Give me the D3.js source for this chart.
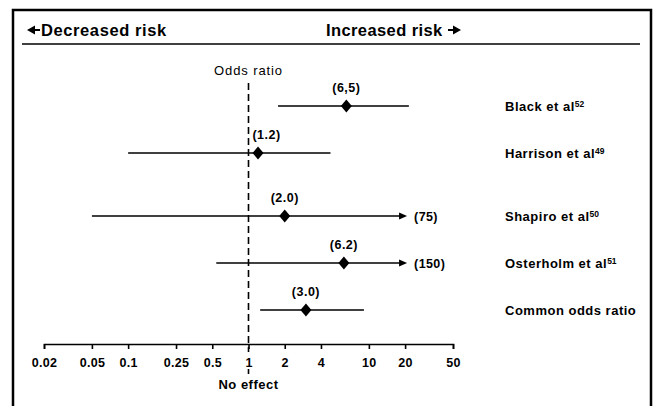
<!DOCTYPE html>
<html>
<head>
<meta charset="utf-8">
<script src="https://cdn.jsdelivr.net/npm/d3@7"></script>
<style>
  body { margin: 0; background: #fff; }
  svg text { font-family: "Liberation Sans", Arial, sans-serif; fill: #000; }
</style>
</head>
<body>
<div id="chart"></div>
<script>
// data
const studies    = ["Black et al", "Harrison et al", "Shapiro et al", "Osterholm et al", "Common odds ratio"];
const refs       = ["52", "49", "50", "51", ""];
const oddsRatio  = [6.5, 1.2, 2.0, 6.2, 3.0];
const ciLow      = [1.76, 0.1, 0.05, 0.54, 1.25];
const ciHigh     = [21.5, 4.8, 75, 150, 9.1];
const orLabels   = ["(6,5)", "(1.2)", "(2.0)", "(6.2)", "(3.0)"];
const tickValues = [0.02, 0.05, 0.1, 0.25, 0.5, 1, 2, 4, 10, 20, 50];
const tickLabels = ["0.02", "0.05", "0.1", "0.25", "0.5", "1", "2", "4", "10", "20", "50"];
const clipMax    = 22; // intervals beyond this are drawn as arrows

const W = 658, H = 406;
const svg = d3.select("#chart").append("svg")
    .attr("width", W)
    .attr("height", H);

const x = d3.scaleLog().domain([0.02, 50]).range([44, 453]);
// rows are not evenly spaced: wider gap after the second study
const y = d3.scaleLinear().domain([0, 1, 2, 4]).range([106, 153, 216, 310]);

// frame
svg.append("rect")
    .attr("x", 13).attr("y", 10)
    .attr("width", 638).attr("height", 420)
    .attr("fill", "none")
    .attr("stroke", "#000")
    .attr("stroke-width", 2.5);

// header
svg.append("line")
    .attr("x1", 22).attr("x2", 640)
    .attr("y1", 44).attr("y2", 44)
    .attr("stroke", "#000").attr("stroke-width", 1.6);

// small filled arrow: tip at xt, pointing in dir (-1 left, +1 right)
const arrow = (g, xt, dir) => {
    g.append("line")
        .attr("x1", xt - dir * 6).attr("x2", xt - dir * 13)
        .attr("y1", 30).attr("y2", 30)
        .attr("stroke", "#000").attr("stroke-width", 2);
    g.append("path")
        .attr("d", `M${xt},30 L${xt - dir * 8},25.5 L${xt - dir * 8},34.5 Z`)
        .attr("fill", "#000");
};
arrow(svg, 27, -1);
svg.append("text")
    .attr("x", 41).attr("y", 36)
    .style("font-size", "16.5px")
    .style("font-weight", "bold")
    .style("letter-spacing", "0.6px")
    .text("Decreased risk");
svg.append("text")
    .attr("x", 326).attr("y", 36)
    .style("font-size", "16.5px")
    .style("font-weight", "bold")
    .style("letter-spacing", "0.4px")
    .text("Increased risk");
arrow(svg, 461, 1);

// x-axis
const axis = svg.append("g")
    .attr("transform", "translate(0,344)")
    .call(d3.axisBottom(x)
        .tickValues(tickValues)
        .tickFormat((d, i) => tickLabels[i])
        .tickSize(5)
        .tickSizeOuter(5)
        .tickPadding(9));
axis.selectAll("path, line").attr("stroke", "#000").attr("stroke-width", 1.6);
axis.selectAll("text")
    .style("font-size", "12.5px")
    .style("font-weight", "bold")
    .style("letter-spacing", "0.3px")
    .attr("fill", "#000");

// no-effect line
const x1 = x(1);
svg.append("line")
    .attr("x1", x1).attr("x2", x1)
    .attr("y1", 83).attr("y2", 352)
    .attr("stroke", "#000").attr("stroke-width", 1.6)
    .attr("stroke-dasharray", "7,4");
svg.append("line")
    .attr("x1", x1).attr("x2", x1)
    .attr("y1", 369).attr("y2", 374)
    .attr("stroke", "#000").attr("stroke-width", 1.6);

svg.append("text")
    .attr("x", x1).attr("y", 75)
    .attr("text-anchor", "middle")
    .style("font-size", "13px")
    .style("letter-spacing", "0.9px")
    .text("Odds ratio");
svg.append("text")
    .attr("x", x1).attr("y", 389)
    .attr("text-anchor", "middle")
    .style("font-size", "13px")
    .style("font-weight", "bold")
    .style("letter-spacing", "0.5px")
    .text("No effect");

// confidence intervals
const rows = svg.selectAll(".row")
    .data(studies)
    .enter()
    .append("g")
    .attr("class", "row");

rows.append("line")
    .attr("x1", (d, i) => x(ciLow[i]))
    .attr("x2", (d, i) => ciHigh[i] > clipMax ? x(clipMax) - 6 : x(ciHigh[i]))
    .attr("y1", (d, i) => y(i))
    .attr("y2", (d, i) => y(i))
    .attr("stroke", "#000")
    .attr("stroke-width", 1.6);

// arrows for intervals that run off the scale
const clipped = rows.filter((d, i) => ciHigh[i] > clipMax);
clipped.append("path")
    .attr("d", (d) => {
        const i = studies.indexOf(d);
        const xe = x(clipMax) - 3, ye = y(i);
        return `M${xe},${ye} L${xe - 8},${ye - 3.5} L${xe - 8},${ye + 3.5} Z`;
    })
    .attr("fill", "#000");
clipped.append("text")
    .attr("x", x(clipMax) + 4)
    .attr("y", (d) => y(studies.indexOf(d)) + 4.5)
    .style("font-size", "12.5px")
    .style("font-weight", "bold")
    .style("letter-spacing", "0.4px")
    .text((d) => `(${ciHigh[studies.indexOf(d)]})`);

// point estimates
rows.append("path")
    .attr("d", (d, i) => {
        const cx = x(oddsRatio[i]), cy = y(i);
        return `M${cx},${cy - 6.5} L${cx + 5.5},${cy} L${cx},${cy + 6.5} L${cx - 5.5},${cy} Z`;
    })
    .attr("fill", "#000");

rows.append("text")
    .attr("x", (d, i) => Math.max(x(oddsRatio[i]), x1 + 18))
    .attr("y", (d, i) => y(i) - 14)
    .attr("text-anchor", "middle")
    .style("font-size", "12.5px")
    .style("font-weight", "bold")
    .style("letter-spacing", "0.5px")
    .text((d, i) => orLabels[i]);

// study names
const names = rows.append("text")
    .attr("x", 505)
    .attr("y", (d, i) => y(i) + 5)
    .style("font-size", "13px")
    .style("font-weight", "bold")
    .style("letter-spacing", "0.5px");
names.append("tspan").text(d => d);
names.append("tspan")
    .attr("dy", -4)
    .style("font-size", "8.5px")
    .style("letter-spacing", "0px")
    .text((d, i) => refs[i]);
</script>
</body>
</html>
